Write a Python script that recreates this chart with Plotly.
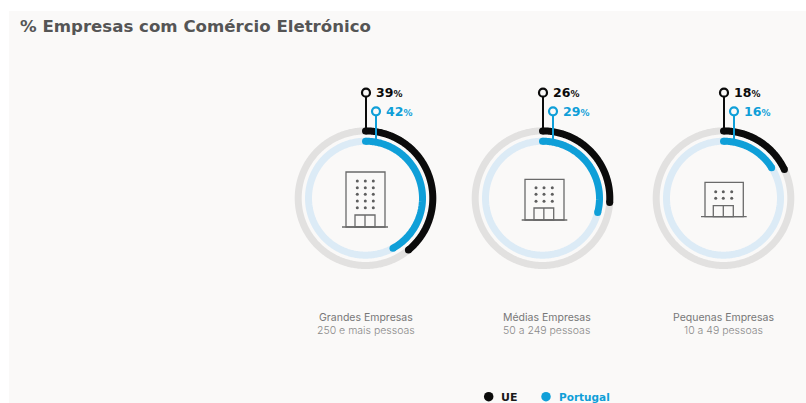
import numpy as np
import plotly.graph_objects as go

# Data
categories = ["Grandes Empresas", "Médias Empresas", "Pequenas Empresas"]
size_bands = ["250 e mais pessoas", "50 a 249 pessoas", "10 a 49 pessoas"]
ue_values = [39, 26, 18]
portugal_values = [42, 29, 16]
series_names = ["UE", "Portugal"]

# Palette
BLACK = "#0b0b0b"
BLUE = "#0f9fd8"
GREY_RING = "#e2e1e0"
PALE_RING = "#dcebf6"
PANEL = "#faf9f8"
ICON = "#6a6a6a"

# Layout, in pixels of the 806x403 page
WIDTH, HEIGHT = 806, 403
CENTERS_X = [365.5, 542.5, 723.5]
CAPTION_X = [365.5, 546.5, 723.5]
CENTER_Y = 198.2
DOMAIN_R = 76
OUTER_R, INNER_R = 67.3, 57
RING_W = 7
STEM_OFFSET = 10.5

# Icon geometry per ring: body left/right, top, base, base line ends, door, window grid
ICONS = [
    dict(l=346, r=385, t=172, b=227, bl=342, br=388, dl=355, dr=375, dt=215,
         wx=[357.3, 365.3, 373.3], wy=[181, 187.7, 194.3, 201, 207.7]),
    dict(l=525, r=564, t=179.3, b=220, bl=521.7, br=567.3, dl=534, dr=553.7, dt=208,
         wx=[536, 544, 552.3], wy=[187.7, 194.3, 201.3]),
    dict(l=705, r=743.3, t=182.3, b=216.7, bl=701, br=746.7, dl=713.3, dr=733.3, dt=205.7,
         wx=[715.7, 723.3, 731.7], wy=[191.7, 198.3]),
]

fig = go.Figure()
shapes = [dict(type="rect", xref="x", yref="y", x0=9, x1=WIDTH, y0=11, y1=HEIGHT,
               fillcolor=PANEL, line_width=0, layer="below")]
annotations = []


def add_text(x, y, text, size, color, family="Inter", weight=400, anchor="left"):
    annotations.append(dict(x=x, y=y, xref="x", yref="y", text=text, showarrow=False,
                            xanchor=anchor, yanchor="middle", align=anchor,
                            font=dict(size=size, color=color, family=family, weight=weight)))


def add_arc(subplot, radius, percent, color):
    """Rounded arc running clockwise from twelve o'clock to the given percentage."""
    theta = np.linspace(0, percent * 3.6, max(2, int(percent * 4)))
    fig.add_trace(go.Scatterpolar(
        r=np.full(theta.size, radius), theta=theta, subplot=subplot, mode="lines",
        line=dict(color=color, width=RING_W), hoverinfo="skip", showlegend=False))
    if percent < 100:
        fig.add_trace(go.Scatterpolar(
            r=[radius, radius], theta=[theta[0], theta[-1]], subplot=subplot, mode="markers",
            marker=dict(color=color, size=RING_W, line_width=0),
            hoverinfo="skip", showlegend=False))


def add_pin(x, y, stem_end, color):
    shapes.append(dict(type="line", xref="x", yref="y", x0=x, x1=x, y0=y + 4, y1=stem_end,
                       line=dict(color=color, width=2), layer="above"))
    fig.add_trace(go.Scatter(
        x=[x], y=[y], mode="markers", showlegend=False, hoverinfo="skip",
        marker=dict(size=8, color=PANEL, line=dict(color=color, width=2.2))))


layout_polars = {}
for i, (cx, ue, pt) in enumerate(zip(CENTERS_X, ue_values, portugal_values)):
    key = "polar" if i == 0 else f"polar{i + 1}"
    layout_polars[key] = dict(
        domain=dict(x=[(cx - DOMAIN_R) / WIDTH, (cx + DOMAIN_R) / WIDTH],
                    y=[1 - (CENTER_Y + DOMAIN_R) / HEIGHT, 1 - (CENTER_Y - DOMAIN_R) / HEIGHT]),
        bgcolor="rgba(0,0,0,0)",
        radialaxis=dict(visible=False, range=[0, DOMAIN_R]),
        angularaxis=dict(visible=False, direction="clockwise", rotation=90),
    )
    add_arc(key, OUTER_R, 100, GREY_RING)
    add_arc(key, INNER_R, 100, PALE_RING)
    add_arc(key, OUTER_R, ue, BLACK)
    add_arc(key, INNER_R, pt, BLUE)

    # Value pins above each ring
    ue_y, pt_y = 92.7, 111.3
    add_pin(cx + 0.5, ue_y, CENTER_Y - OUTER_R, BLACK)
    add_pin(cx + STEM_OFFSET, pt_y, CENTER_Y - INNER_R, BLUE)
    add_text(cx + 8.5, ue_y, f"<b>{ue}</b><span style='font-size:9px'>%</span>",
             12.5, BLACK, family="DejaVu Sans", weight=700)
    add_text(cx + 18, pt_y, f"<b>{pt}</b><span style='font-size:9px'>%</span>",
             12.5, BLUE, family="DejaVu Sans", weight=700)

    # Captions under each ring
    add_text(CAPTION_X[i], 317, categories[i], 10.5, "#777777", anchor="center")
    add_text(CAPTION_X[i], 330.5, size_bands[i], 10.5, "#8a8a8a", weight=300, anchor="center")

    # Building pictogram
    ic = ICONS[i]
    line = dict(color=ICON, width=1.3)
    shapes.append(dict(type="rect", xref="x", yref="y", x0=ic["l"], x1=ic["r"],
                       y0=ic["t"], y1=ic["b"], line=line))
    shapes.append(dict(type="line", xref="x", yref="y", x0=ic["bl"], x1=ic["br"],
                       y0=ic["b"], y1=ic["b"], line=line))
    shapes.append(dict(type="rect", xref="x", yref="y", x0=ic["dl"], x1=ic["dr"],
                       y0=ic["dt"], y1=ic["b"], line=line))
    door_mid = (ic["dl"] + ic["dr"]) / 2
    shapes.append(dict(type="line", xref="x", yref="y", x0=door_mid, x1=door_mid,
                       y0=ic["dt"], y1=ic["b"], line=line))
    wx, wy = np.meshgrid(ic["wx"], ic["wy"])
    fig.add_trace(go.Scatter(
        x=wx.ravel(), y=wy.ravel(), mode="markers", showlegend=False, hoverinfo="skip",
        marker=dict(size=3, color="#5e5e5e", line_width=0)))

# Title
add_text(17.5, 26, "% Empresas com Comércio Eletrónico", 16.6, "#555555",
         family="DejaVu Sans", weight=700)

# Legend row
fig.add_trace(go.Scatter(
    x=[488.7, 546], y=[396.7, 396.7], mode="markers", showlegend=False, hoverinfo="skip",
    marker=dict(size=9.5, color=[BLACK, BLUE], line_width=0)))
add_text(498.5, 397, series_names[0], 11, "#1a1a1a", family="DejaVu Sans", weight=700)
add_text(556.5, 397, series_names[1], 10.5, BLUE, family="DejaVu Sans", weight=700)

fig.update_layout(
    width=WIDTH, height=HEIGHT, autosize=False,
    margin=dict(l=0, r=0, t=0, b=0),
    paper_bgcolor="#ffffff", plot_bgcolor="rgba(0,0,0,0)",
    showlegend=False,
    xaxis=dict(visible=False, range=[0, WIDTH], domain=[0, 1], fixedrange=True),
    yaxis=dict(visible=False, range=[HEIGHT, 0], domain=[0, 1], fixedrange=True),
    shapes=shapes, annotations=annotations,
    **layout_polars,
)

fig.write_html("out.html", config=dict(displayModeBar=False))
